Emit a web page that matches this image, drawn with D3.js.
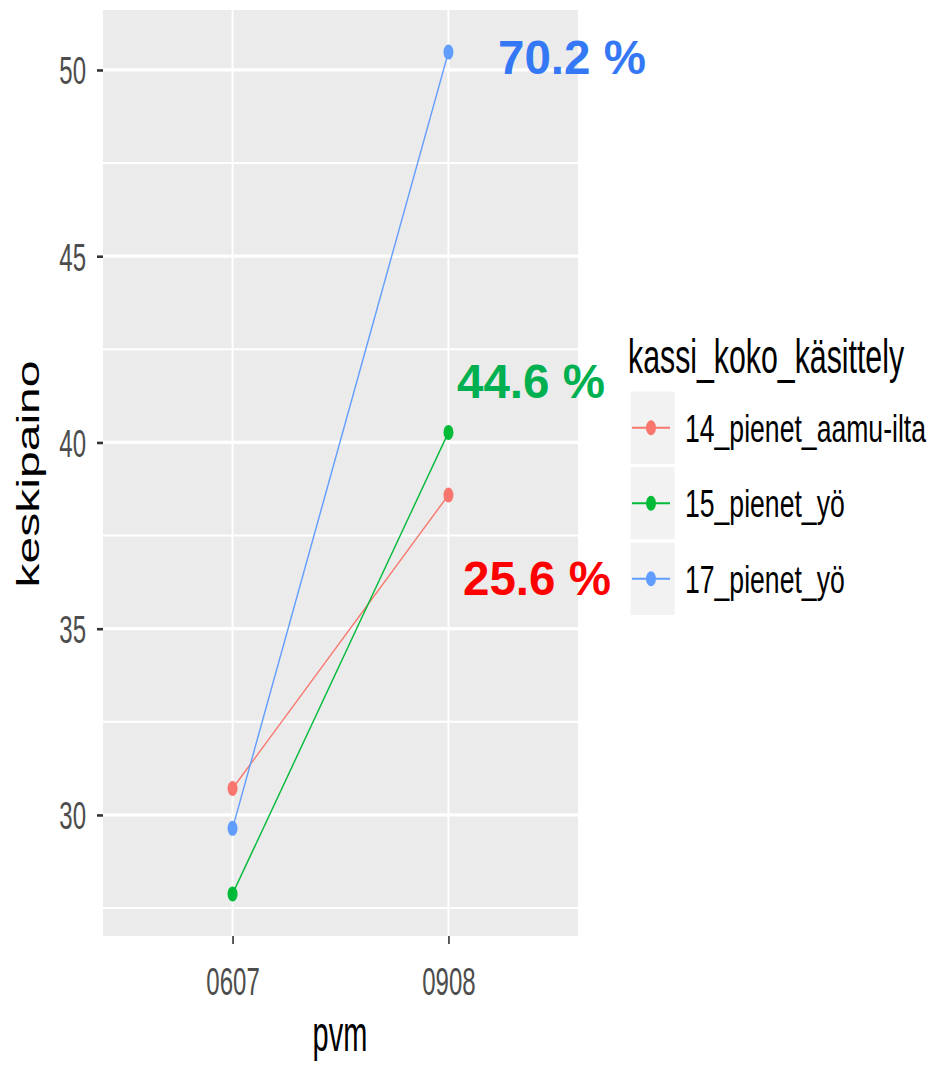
<!DOCTYPE html>
<html><head><meta charset="utf-8">
<script src="https://cdn.jsdelivr.net/npm/d3@7"></script>
<style>body{margin:0;background:#fff;} svg{display:block;}</style>
</head><body>
<svg id="chart" width="933" height="1067"></svg>
<script>
const dates = ["0607", "0908"];
const seriesNames = ["14_pienet_aamu-ilta", "15_pienet_yö", "17_pienet_yö"];
const seriesColors = ["#F8766D", "#00BA38", "#619CFF"];
const values14 = [30.71, 38.59];
const values15 = [27.88, 40.27];
const values17 = [29.64, 50.48];
const yTicks = [30, 35, 40, 45, 50];
const yMinor = [27.5, 32.5, 37.5, 42.5, 47.5];
const annotations = ["25.6 %", "44.6 %", "70.2 %"];
const annotationColors = ["#FF0000", "#00B050", "#3478F6"];

const series = [values14, values15, values17].map((v, i) => ({name: seriesNames[i], color: seriesColors[i], values: v}));

const svg = d3.select("#chart");
const P = {left: 103, right: 578, top: 10, bottom: 936};

const allV = series.flatMap(s => s.values);
const vmin = d3.min(allV), vmax = d3.max(allV), pad = (vmax - vmin) * 0.05;
const y = d3.scaleLinear().domain([vmin - pad, vmax + pad]).range([P.bottom, P.top]);
const x = d3.scalePoint().domain(dates).range([P.left, P.right]).padding(0.6);

const FONT = "Liberation Sans, Arial, sans-serif";
function stext(g, str, tx, ty, fs, sy, anchor, color, rot) {
  return g.append("text")
    .attr("transform", `translate(${tx},${ty}) scale(1,${sy})` + (rot ? ` rotate(${rot})` : ""))
    .attr("font-family", FONT).attr("font-size", fs)
    .attr("text-anchor", anchor).attr("fill", color).text(str);
}

// panel
svg.append("rect").attr("x", P.left).attr("y", P.top).attr("width", P.right - P.left)
  .attr("height", P.bottom - P.top).attr("fill", "#EBEBEB");
svg.append("g").selectAll("line").data(yMinor).join("line")
  .attr("x1", P.left).attr("x2", P.right).attr("y1", d => y(d)).attr("y2", d => y(d))
  .attr("stroke", "#fff").attr("stroke-width", 2);
svg.append("g").selectAll("line").data(yTicks).join("line")
  .attr("x1", P.left).attr("x2", P.right).attr("y1", d => y(d)).attr("y2", d => y(d))
  .attr("stroke", "#fff").attr("stroke-width", 3.2);
svg.append("g").selectAll("line").data(dates).join("line")
  .attr("x1", d => x(d)).attr("x2", d => x(d)).attr("y1", P.top).attr("y2", P.bottom)
  .attr("stroke", "#fff").attr("stroke-width", 2);

// axes
const yAxis = svg.append("g").attr("transform", `translate(${P.left},0)`)
  .call(d3.axisLeft(y).tickValues(yTicks).tickSize(6).tickFormat(""));
yAxis.select(".domain").remove();
yAxis.selectAll(".tick line").attr("stroke", "#333").attr("stroke-width", 2.6);
yAxis.selectAll(".tick").each(function(d) {
  stext(d3.select(this), d, -17, 14, 24, 1.65, "end", "#4D4D4D");
});
const xAxis = svg.append("g").attr("transform", `translate(0,${P.bottom})`)
  .call(d3.axisBottom(x).tickSize(8).tickFormat(""));
xAxis.select(".domain").remove();
xAxis.selectAll(".tick line").attr("stroke", "#333").attr("stroke-width", 1.6);
xAxis.selectAll(".tick").each(function(d) {
  stext(d3.select(this), d, 0, 59, 24, 1.65, "middle", "#4D4D4D");
});

// axis titles
stext(svg, "pvm", 340, 1051, 29, 1.75, "middle", "#000");
stext(svg, "keskipaino", 39, 474, 31, 1.55, "middle", "#000", -90);

// lines and points
const line = d3.line().x((d, i) => x(dates[i])).y(d => y(d));
series.forEach(s => {
  svg.append("path").datum(s.values).attr("d", line).attr("fill", "none")
    .attr("stroke", s.color).attr("stroke-width", 1.4);
  svg.append("g").selectAll("ellipse").data(s.values).join("ellipse")
    .attr("cx", (d, i) => x(dates[i])).attr("cy", d => y(d))
    .attr("rx", 5).attr("ry", 7.5).attr("fill", s.color);
});

// annotations
const annPos = [[463, 595], [457, 398], [498, 74]];
annotations.forEach((a, i) => {
  svg.append("text").attr("x", annPos[i][0]).attr("y", annPos[i][1])
    .attr("font-family", FONT).attr("font-weight", "bold").attr("font-size", 47.5)
    .attr("fill", annotationColors[i]).text(a);
});

// legend
const lg = svg.append("g");
stext(lg, "kassi_koko_käsittely", 628, 373, 30.3, 1.6, "start", "#000");
const keyTop = 390, keyH = 75.5;
series.forEach((s, i) => {
  const cy = keyTop + keyH * i + keyH / 2;
  lg.append("rect").attr("x", 629).attr("y", keyTop + keyH * i).attr("width", 47).attr("height", keyH)
    .attr("fill", "#F2F2F2").attr("stroke", "#fff").attr("stroke-width", 3);
  lg.append("line").attr("x1", 632).attr("x2", 670).attr("y1", cy).attr("y2", cy)
    .attr("stroke", s.color).attr("stroke-width", 2);
  lg.append("ellipse").attr("cx", 651).attr("cy", cy).attr("rx", 5).attr("ry", 7.5).attr("fill", s.color);
  stext(lg, s.name, 685, cy + 14, 26.6, 1.45, "start", "#000");
});
</script>
</body></html>
